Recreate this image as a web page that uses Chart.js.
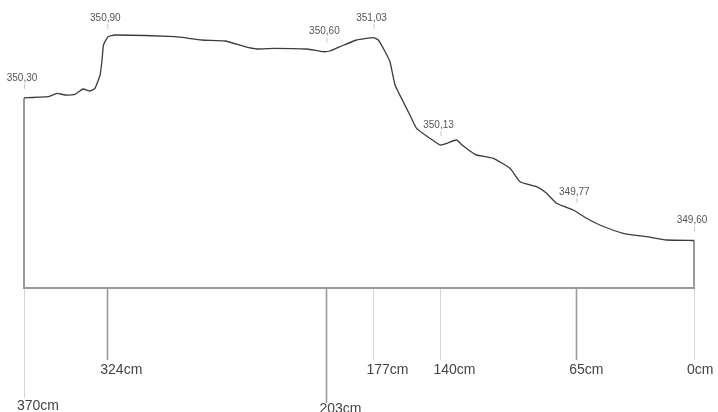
<!DOCTYPE html>
<html>
<head>
<meta charset="utf-8">
<script src="https://cdn.jsdelivr.net/npm/chart.js@4/dist/chart.umd.min.js"></script>
<style>
  html, body { margin: 0; padding: 0; background: #fff; }
  #wrap { width: 718px; height: 412px; }
</style>
</head>
<body>
<div id="wrap"><canvas id="profileChart"></canvas></div>
<script>
// profile: distance (cm) and height above the base line
const distances = [370, 367.8, 356.7, 351.8, 347.4, 341.8, 337.4, 333.6, 330.8, 328, 326.9, 326.1, 323.6, 319.8,
    286.6, 271.9, 259, 248, 241.5, 232.3, 213.9, 204.7, 201, 195.5, 186.3, 177.1, 174.4, 171.6, 167.9, 165.1,
    160.6, 156.9, 153.2, 145.8, 140.3, 136.6, 131.1, 128.1, 121.9, 120, 110.9, 101.6, 96.1, 86.9, 81.4, 75.9,
    66.7, 59.3, 52, 39.1, 26.2, 15.1, 0];
const heights = [190, 190.3, 191.3, 194.7, 193, 193.7, 199, 197, 199.7, 213, 228, 243, 251.3, 253,
    251.3, 248, 247, 241.3, 239, 239.7, 239, 236.3, 237, 241.3, 248, 250.3, 248, 239.7, 226.3, 203,
    186.3, 173, 159.7, 149.7, 143, 144.7, 148, 143, 134.7, 133, 129.7, 119.7, 106.3, 101.3, 94.7, 84.7,
    78, 69.7, 63, 54.7, 51.3, 48, 47.5];

// stations with distance labels and elevation labels
const stations = [370, 324, 203, 177, 140, 65, 0];
const stationLabels = ['370cm', '324cm', '203cm', '177cm', '140cm', '65cm', '0cm'];
const elevationLabels = ['350,30', '350,90', '350,60', '351,03', '350,13', '349,77', '349,60'];

// drawing of the station ticks below the base line
const tickDrop = [110, 72, 115, 72, 72, 72, 72];
const labelDrop = [118, 82, 121, 82, 82, 82, 82];
const tickStrong = [false, true, true, false, false, true, false];

function heightAt(d) {
    for (let i = 0; i < distances.length - 1; i++) {
        const a = distances[i], b = distances[i + 1];
        if (d <= a && d >= b) {
            const t = (a - d) / (a - b || 1);
            return heights[i] + t * (heights[i + 1] - heights[i]);
        }
    }
    return heights[heights.length - 1];
}

const profileFrame = {
    id: 'profileFrame',
    beforeDatasetsDraw(chart) {
        const ctx = chart.ctx;
        const xs = chart.scales.x, ys = chart.scales.y;
        const base = ys.getPixelForValue(0);
        const xl = xs.getPixelForValue(stations[0]);
        const xr = xs.getPixelForValue(stations[stations.length - 1]);

        ctx.save();
        // ticks under the base line
        stations.forEach(function (s, i) {
            const x = Math.round(xs.getPixelForValue(s)) + 0.5;
            ctx.beginPath();
            ctx.strokeStyle = tickStrong[i] ? '#9a9a9a' : '#d6d6d6';
            ctx.lineWidth = tickStrong[i] ? 1.6 : 1;
            ctx.moveTo(x, base);
            ctx.lineTo(x, base + tickDrop[i]);
            ctx.stroke();
        });

        // base line and side walls
        ctx.strokeStyle = '#9a9a9a';
        ctx.lineWidth = 2;
        ctx.beginPath();
        ctx.moveTo(xl, ys.getPixelForValue(heights[0]));
        ctx.lineTo(xl, base);
        ctx.lineTo(xr, base);
        ctx.lineTo(xr, ys.getPixelForValue(heights[heights.length - 1]));
        ctx.stroke();

        // distance labels
        ctx.fillStyle = '#444';
        ctx.font = '14px "Liberation Sans", Arial, sans-serif';
        ctx.textAlign = 'left';
        ctx.textBaseline = 'middle';
        stations.forEach(function (s, i) {
            const x = xs.getPixelForValue(s);
            ctx.fillText(stationLabels[i], x - 7, base + labelDrop[i]);
        });

        // elevation labels above the profile
        ctx.font = '10px "Liberation Sans", Arial, sans-serif';
        ctx.textAlign = 'center';
        stations.forEach(function (s, i) {
            const x = xs.getPixelForValue(s);
            const y = ys.getPixelForValue(heightAt(s));
            ctx.fillStyle = '#555';
            ctx.fillText(elevationLabels[i], x - 2, y - 20);
            ctx.strokeStyle = '#c8c8c8';
            ctx.lineWidth = 1;
            ctx.beginPath();
            ctx.moveTo(x + 0.5, y - 14);
            ctx.lineTo(x + 0.5, y - 9);
            ctx.stroke();
        });
        ctx.restore();
    }
};

new Chart(document.getElementById('profileChart'), {
    type: 'line',
    data: {
        datasets: [{
            data: distances.map(function (d, i) { return { x: d, y: heights[i] }; }),
            borderColor: '#3c3c3c',
            borderWidth: 1.3,
            pointRadius: 0,
            tension: 0.15,
            fill: false
        }]
    },
    options: {
        responsive: true,
        maintainAspectRatio: false,
        animation: false,
        layout: { padding: { left: 24, right: 24, top: 0, bottom: 124 } },
        plugins: { legend: { display: false }, tooltip: { enabled: false } },
        scales: {
            x: { type: 'linear', reverse: true, min: 0, max: 370, display: false },
            y: { min: 0, max: 288, display: false }
        }
    },
    plugins: [profileFrame]
});
</script>
</body>
</html>
